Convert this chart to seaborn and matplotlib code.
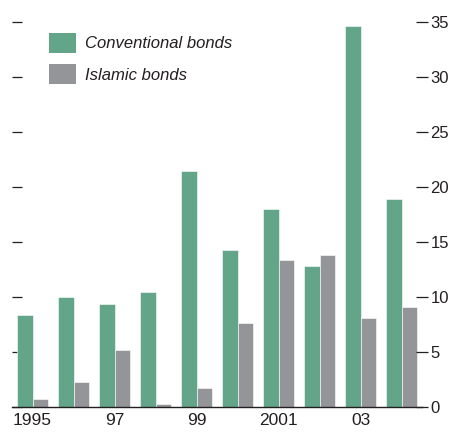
import pandas as pd
import numpy as np
import matplotlib.pyplot as plt
import seaborn as sns

years = ["1995", "1996", "1997", "1998", "1999", "2000", "2001", "2002", "2003", "2004"]
year_labels = ["1995", "", "97", "", "99", "", "2001", "", "03", ""]
conventional = [8.4, 10.0, 9.4, 10.5, 21.5, 14.3, 18.0, 12.8, 34.6, 18.9]
islamic = [0.7, 2.3, 5.2, 0.3, 1.7, 7.6, 13.4, 13.8, 8.1, 9.1]

df = pd.DataFrame({
    "year": years * 2,
    "value": conventional + islamic,
    "type": ["Conventional bonds"] * len(years) + ["Islamic bonds"] * len(years),
})

sns.set_style("white")
plt.rcParams["font.family"] = ["Liberation Sans", "DejaVu Sans"]
txt = "#231f20"

fig = plt.figure(figsize=(4.5, 4.33), dpi=100)
ax = fig.add_axes([12 / 450, 26 / 433, 410 / 450, 385 / 433])

sns.barplot(data=df, x="year", y="value", hue="type", ax=ax,
            palette=["#63a589", "#949599"], width=0.77, saturation=1,
            edgecolor="white", linewidth=0.4)

ax.set_xlim(-0.5, len(years) - 0.5)
ax.set_ylim(0, 35)
ax.set_xlabel("")
ax.set_ylabel("")

for s in ["top", "left", "right"]:
    ax.spines[s].set_visible(False)
ax.spines["bottom"].set_color(txt)
ax.spines["bottom"].set_linewidth(1.0)

# x axis: labels at group centres, tick marks between groups
ax.set_xticks(range(len(years)))
ax.set_xticklabels(year_labels, fontsize=12.5, color=txt)
ax.set_xticks(np.arange(-0.5, len(years), 1), minor=True)
ax.tick_params(axis="x", which="major", length=0, pad=4)
ax.tick_params(axis="x", which="minor", direction="in", length=6.5, width=1, color=txt)

# left ticks without labels
yt = np.arange(0, 36, 5)
ax.set_yticks(yt)
ax.tick_params(axis="y", direction="in", length=7, width=0.9, color=txt,
               left=True, labelleft=False)

# right axis with labels
ax2 = ax.twinx()
ax2.set_ylim(0, 35)
ax2.set_yticks(yt)
ax2.set_yticklabels([str(v) for v in yt], fontsize=12, color=txt)
ax2.tick_params(axis="y", direction="inout", length=8, width=0.9, color=txt, pad=2)
for s in ax2.spines.values():
    s.set_visible(False)
ax2.grid(False)
ax.grid(False)

leg = ax.legend(loc="upper left", bbox_to_anchor=(0.09, 0.972), frameon=False,
                prop={"style": "italic", "size": 12},
                handlelength=1.6, handleheight=1.45, handletextpad=0.55,
                labelspacing=0.7, borderpad=0, borderaxespad=0)
for t in leg.get_texts():
    t.set_color(txt)
for h in leg.legend_handles:
    h.set_linewidth(0)

fig.savefig("out.png", dpi=100)
